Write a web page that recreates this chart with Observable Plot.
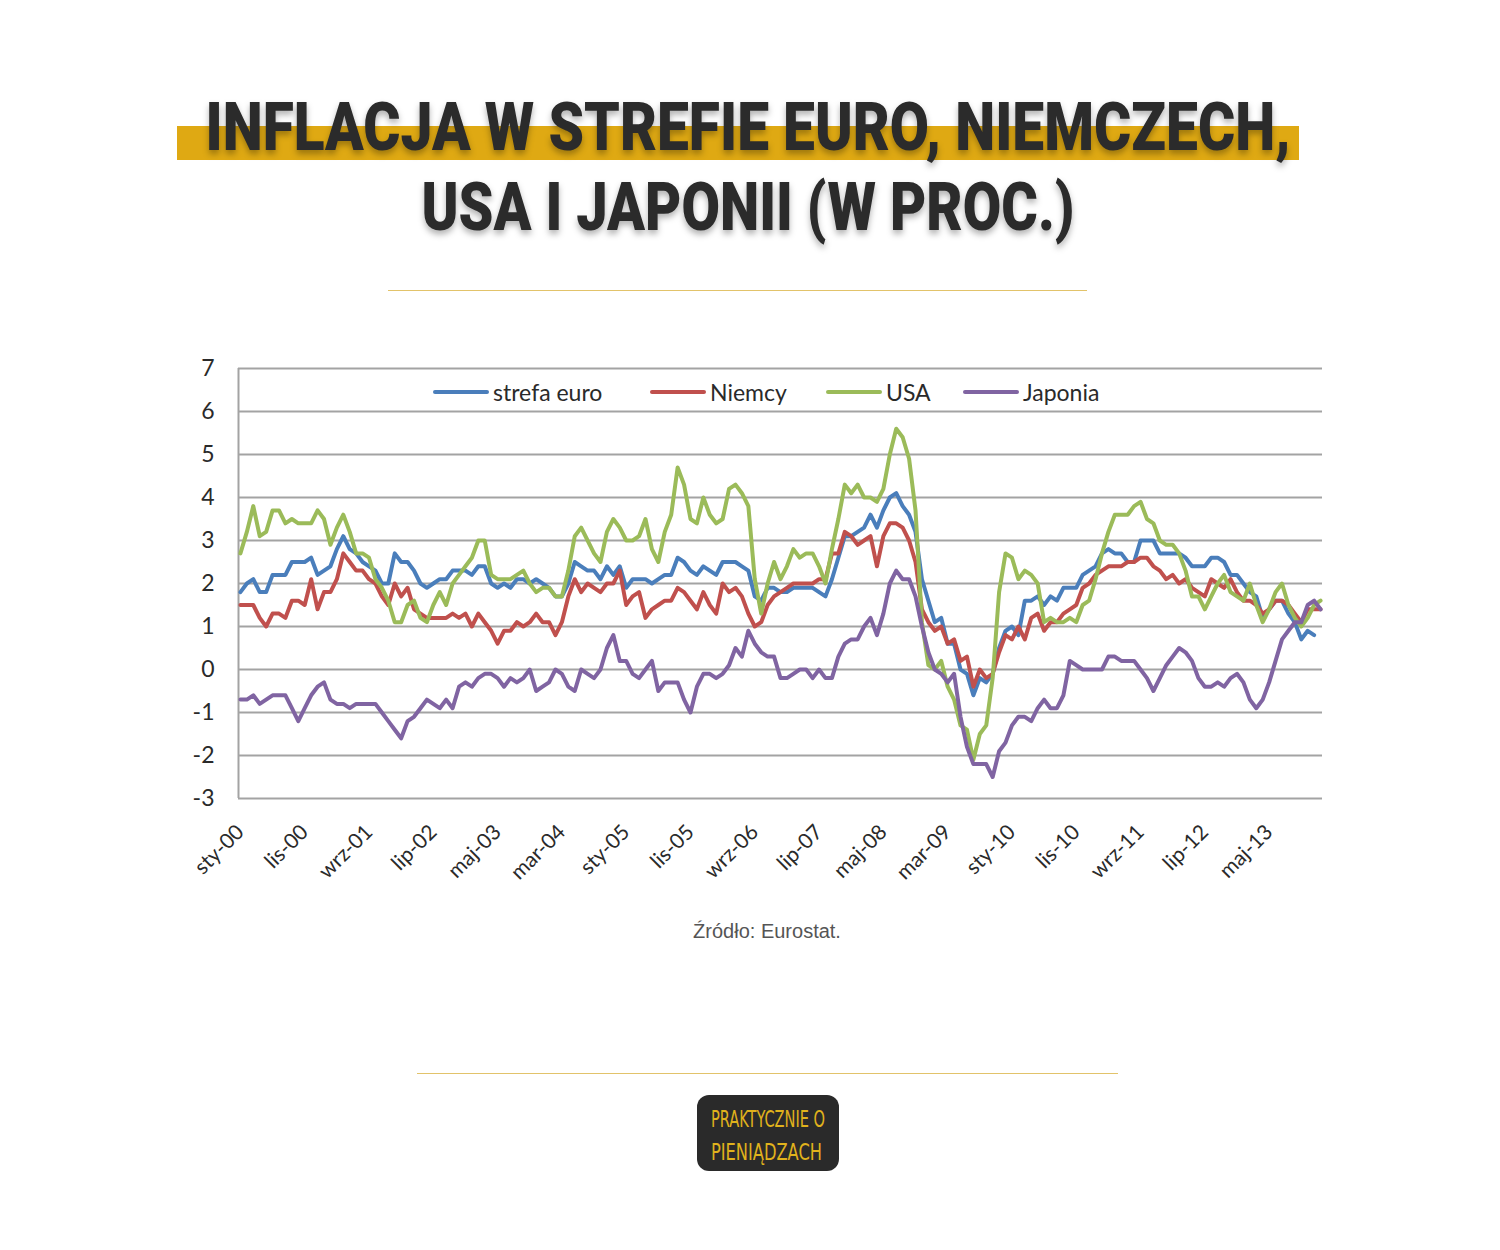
<!DOCTYPE html>
<html>
<head>
<meta charset="utf-8">
<script src="https://cdn.jsdelivr.net/npm/d3@7"></script>
<script src="https://cdn.jsdelivr.net/npm/@observablehq/plot@0.6"></script>
<style>
  html, body { margin: 0; padding: 0; background: #ffffff; }
  #page { position: relative; width: 1500px; height: 1250px; overflow: hidden; background: #fff; }
  .abs { position: absolute; }
  .rule { position: absolute; height: 1px; background: #e2c36a; }
  #legend .item { position: absolute; top: 378px; height: 28px; display: flex; align-items: center; font-family: Lato, "Open Sans", sans-serif; font-size: 23px; color: #2a2a2a; white-space: nowrap; }
  #legend .swatch { display: inline-block; width: 56px; height: 4px; border-radius: 2px; margin-right: 4px; }
  #caption { position: absolute; left: 0; width: 1534px; top: 920px; text-align: center; font-family: "Liberation Sans", Arial, sans-serif; font-size: 20px; color: #555; }
</style>
</head>
<body>
<div id="page">
  <svg class="abs" style="left:0;top:0" width="1500" height="270">
    <rect x="177" y="126" width="1122" height="34" fill="#dfa913"></rect>
    <g style="filter: drop-shadow(0px 4px 3px rgba(0,0,0,0.3));" font-family="Roboto, 'DejaVu Sans Condensed', sans-serif" font-weight="900" fill="#2b2b2b" text-anchor="middle">
      <text x="748" y="150" font-size="66" textLength="1085" lengthAdjust="spacingAndGlyphs">INFLACJA W STREFIE EURO, NIEMCZECH,</text>
      <text x="748" y="230" font-size="66" textLength="653" lengthAdjust="spacingAndGlyphs">USA I JAPONII (W PROC.)</text>
    </g>
  </svg>
  <div class="rule" style="left:388px; width:699px; top:290px;"></div>
  <div id="chart" class="abs" style="left:0; top:340px;"></div>
  <div id="legend"></div>
  <div id="caption">Źródło: Eurostat.</div>
  <div class="rule" style="left:417px; width:701px; top:1073px;"></div>
  <svg class="abs" style="left:696px;top:1094px" width="144" height="78">
    <rect x="1" y="1" width="142" height="76" rx="12" ry="12" fill="#2a2a2a"></rect>
    <g font-family="'Liberation Sans Narrow', 'DejaVu Sans Condensed', sans-serif" font-weight="400" fill="#e0b21c">
      <text transform="translate(15,33) scale(1,1.45)" x="0" y="0" font-size="16" textLength="114" lengthAdjust="spacingAndGlyphs">PRAKTYCZNIE O</text>
      <text transform="translate(15,66) scale(1,1.45)" x="0" y="0" font-size="16" textLength="111" lengthAdjust="spacingAndGlyphs">PIENIĄDZACH</text>
    </g>
  </svg>
</div>
<script>
// ---- data (monthly, Jan 2000 .. Jan 2014) ----
const seriesNames = ["strefa euro", "Niemcy", "USA", "Japonia"];
const seriesColors = ["#4a7ebb", "#c0504d", "#9bbb59", "#8064a2"];

const strefaEuro = [
  1.8, 2.0, 2.1, 1.8, 1.8, 2.2, 2.2, 2.2, 2.5, 2.5, 2.5, 2.6,
  2.2, 2.3, 2.4, 2.8, 3.1, 2.8, 2.7, 2.5, 2.4, 2.3, 2.0, 2.0,
  2.7, 2.5, 2.5, 2.3, 2.0, 1.9, 2.0, 2.1, 2.1, 2.3, 2.3, 2.3,
  2.2, 2.4, 2.4, 2.0, 1.9, 2.0, 1.9, 2.1, 2.1, 2.0, 2.1, 2.0,
  1.9, 1.7, 1.7, 2.0, 2.5, 2.4, 2.3, 2.3, 2.1, 2.4, 2.2, 2.4,
  1.9, 2.1, 2.1, 2.1, 2.0, 2.1, 2.2, 2.2, 2.6, 2.5, 2.3, 2.2,
  2.4, 2.3, 2.2, 2.5, 2.5, 2.5, 2.4, 2.3, 1.7, 1.6, 1.9, 1.9,
  1.8, 1.8, 1.9, 1.9, 1.9, 1.9, 1.8, 1.7, 2.1, 2.6, 3.1, 3.1,
  3.2, 3.3, 3.6, 3.3, 3.7, 4.0, 4.1, 3.8, 3.6, 3.2, 2.1, 1.6,
  1.1, 1.2, 0.6, 0.6, 0.0, -0.1, -0.6, -0.2, -0.3, -0.1, 0.5, 0.9,
  1.0, 0.8, 1.6, 1.6, 1.7, 1.5, 1.7, 1.6, 1.9, 1.9, 1.9, 2.2,
  2.3, 2.4, 2.7, 2.8, 2.7, 2.7, 2.5, 2.5, 3.0, 3.0, 3.0, 2.7,
  2.7, 2.7, 2.7, 2.6, 2.4, 2.4, 2.4, 2.6, 2.6, 2.5, 2.2, 2.2,
  2.0, 1.8, 1.7, 1.2, 1.4, 1.6, 1.6, 1.3, 1.1, 0.7, 0.9, 0.8,
  null
];
const niemcy = [
  1.5, 1.5, 1.5, 1.2, 1.0, 1.3, 1.3, 1.2, 1.6, 1.6, 1.5, 2.1,
  1.4, 1.8, 1.8, 2.1, 2.7, 2.5, 2.3, 2.3, 2.1, 2.0, 1.7, 1.5,
  2.0, 1.7, 1.9, 1.4, 1.3, 1.2, 1.2, 1.2, 1.2, 1.3, 1.2, 1.3,
  1.0, 1.3, 1.1, 0.9, 0.6, 0.9, 0.9, 1.1, 1.0, 1.1, 1.3, 1.1,
  1.1, 0.8, 1.1, 1.7, 2.1, 1.8, 2.0, 1.9, 1.8, 2.0, 2.0, 2.3,
  1.5, 1.7, 1.8, 1.2, 1.4, 1.5, 1.6, 1.6, 1.9, 1.8, 1.6, 1.4,
  1.8, 1.5, 1.3, 2.0, 1.8, 1.9, 1.7, 1.3, 1.0, 1.1, 1.5, 1.7,
  1.8, 1.9, 2.0, 2.0, 2.0, 2.0, 2.1, 2.1, 2.7, 2.7, 3.2, 3.1,
  2.9, 3.0, 3.1, 2.4, 3.1, 3.4, 3.4, 3.3, 3.0, 2.5, 1.4, 1.1,
  0.9, 1.0, 0.6, 0.7, 0.2, 0.3, -0.4, 0.0, -0.2, -0.1, 0.4, 0.8,
  0.7, 1.0, 0.7, 1.2, 1.3, 0.9, 1.1, 1.1, 1.3, 1.4, 1.5, 1.9,
  2.0, 2.2, 2.3, 2.4, 2.4, 2.4, 2.5, 2.5, 2.6, 2.6, 2.4, 2.3,
  2.1, 2.2, 2.0, 2.1, 1.9, 1.8, 1.7, 2.1, 2.0, 1.9, 2.1, 1.8,
  1.6, 1.6, 1.5, 1.3, 1.4, 1.6, 1.6, 1.5, 1.3, 1.1, 1.4, 1.4,
  1.4
];
const usa = [
  2.7, 3.2, 3.8, 3.1, 3.2, 3.7, 3.7, 3.4, 3.5, 3.4, 3.4, 3.4,
  3.7, 3.5, 2.9, 3.3, 3.6, 3.2, 2.7, 2.7, 2.6, 2.1, 1.9, 1.6,
  1.1, 1.1, 1.5, 1.6, 1.2, 1.1, 1.5, 1.8, 1.5, 2.0, 2.2, 2.4,
  2.6, 3.0, 3.0, 2.2, 2.1, 2.1, 2.1, 2.2, 2.3, 2.0, 1.8, 1.9,
  1.9, 1.7, 1.7, 2.3, 3.1, 3.3, 3.0, 2.7, 2.5, 3.2, 3.5, 3.3,
  3.0, 3.0, 3.1, 3.5, 2.8, 2.5, 3.2, 3.6, 4.7, 4.3, 3.5, 3.4,
  4.0, 3.6, 3.4, 3.5, 4.2, 4.3, 4.1, 3.8, 2.1, 1.3, 2.0, 2.5,
  2.1, 2.4, 2.8, 2.6, 2.7, 2.7, 2.4, 2.0, 2.8, 3.5, 4.3, 4.1,
  4.3, 4.0, 4.0, 3.9, 4.2, 5.0, 5.6, 5.4, 4.9, 3.7, 1.1, 0.1,
  0.0, 0.2, -0.4, -0.7, -1.3, -1.4, -2.1, -1.5, -1.3, -0.2, 1.8, 2.7,
  2.6, 2.1, 2.3, 2.2, 2.0, 1.1, 1.2, 1.1, 1.1, 1.2, 1.1, 1.5,
  1.6, 2.1, 2.7, 3.2, 3.6, 3.6, 3.6, 3.8, 3.9, 3.5, 3.4, 3.0,
  2.9, 2.9, 2.7, 2.3, 1.7, 1.7, 1.4, 1.7, 2.0, 2.2, 1.8, 1.7,
  1.6, 2.0, 1.5, 1.1, 1.4, 1.8, 2.0, 1.5, 1.2, 1.0, 1.2, 1.5,
  1.6
];
const japonia = [
  -0.7, -0.7, -0.6, -0.8, -0.7, -0.6, -0.6, -0.6, -0.9, -1.2, -0.9, -0.6,
  -0.4, -0.3, -0.7, -0.8, -0.8, -0.9, -0.8, -0.8, -0.8, -0.8, -1.0, -1.2,
  -1.4, -1.6, -1.2, -1.1, -0.9, -0.7, -0.8, -0.9, -0.7, -0.9, -0.4, -0.3,
  -0.4, -0.2, -0.1, -0.1, -0.2, -0.4, -0.2, -0.3, -0.2, 0.0, -0.5, -0.4,
  -0.3, 0.0, -0.1, -0.4, -0.5, 0.0, -0.1, -0.2, 0.0, 0.5, 0.8, 0.2,
  0.2, -0.1, -0.2, 0.0, 0.2, -0.5, -0.3, -0.3, -0.3, -0.7, -1.0, -0.4,
  -0.1, -0.1, -0.2, -0.1, 0.1, 0.5, 0.3, 0.9, 0.6, 0.4, 0.3, 0.3,
  -0.2, -0.2, -0.1, 0.0, 0.0, -0.2, 0.0, -0.2, -0.2, 0.3, 0.6, 0.7,
  0.7, 1.0, 1.2, 0.8, 1.3, 2.0, 2.3, 2.1, 2.1, 1.7, 1.0, 0.4,
  0.0, -0.1, -0.3, -0.1, -1.1, -1.8, -2.2, -2.2, -2.2, -2.5, -1.9, -1.7,
  -1.3, -1.1, -1.1, -1.2, -0.9, -0.7, -0.9, -0.9, -0.6, 0.2, 0.1, 0.0,
  0.0, 0.0, 0.0, 0.3, 0.3, 0.2, 0.2, 0.2, 0.0, -0.2, -0.5, -0.2,
  0.1, 0.3, 0.5, 0.4, 0.2, -0.2, -0.4, -0.4, -0.3, -0.4, -0.2, -0.1,
  -0.3, -0.7, -0.9, -0.7, -0.3, 0.2, 0.7, 0.9, 1.1, 1.1, 1.5, 1.6,
  1.4
];

// category axis: month index 0 = sty-00; labels every 10 months
const xTickMonths = [0, 10, 20, 30, 40, 50, 60, 70, 80, 90, 100, 110, 120, 130, 140, 150, 160];
const xTickLabels = ["sty-00", "lis-00", "wrz-01", "lip-02", "maj-03", "mar-04", "sty-05", "lis-05",
  "wrz-06", "lip-07", "maj-08", "mar-09", "sty-10", "lis-10", "wrz-11", "lip-12", "maj-13"];
const yTicks = [-3, -2, -1, 0, 1, 2, 3, 4, 5, 6, 7];

const allSeries = [strefaEuro, niemcy, usa, japonia];
const rows = [];
allSeries.forEach((vals, si) => {
  vals.forEach((v, t) => rows.push({ t, v, s: seriesNames[si] }));
});

const chart = Plot.plot({
  width: 1500,
  height: 560,
  marginLeft: 238,
  marginRight: 178,
  marginTop: 28,
  marginBottom: 102,
  style: { background: "transparent", fontFamily: "Lato, 'Open Sans', sans-serif" },
  x: { domain: [-0.3, 168.3] },
  y: { domain: [-3, 7] },
  color: { domain: seriesNames, range: seriesColors },
  marks: [
    Plot.gridY(yTicks, { stroke: "#a3a3a3", strokeOpacity: 1, strokeWidth: 2 }),
    Plot.ruleX([-0.3], { stroke: "#a3a3a3", strokeWidth: 2 }),
    Plot.axisY(yTicks, { tickSize: 0, tickPadding: 24, fontSize: 23, fill: "#2a2a2a", label: null, tickFormat: d => String(d) }),
    Plot.axisX(xTickMonths, {
      tickSize: 0, tickRotate: -45, textAnchor: "end", tickPadding: 30, fontSize: 21, fill: "#2a2a2a", label: null,
      tickFormat: d => xTickLabels[xTickMonths.indexOf(d)]
    }),
    Plot.lineY(rows, { x: "t", y: "v", z: "s", stroke: "s", strokeWidth: 4, defined: d => d.v != null, curve: "linear" })
  ]
});
document.getElementById("chart").appendChild(chart);

// legend
const legend = document.getElementById("legend");
const legendLefts = [433, 650, 826, 963];
seriesNames.forEach((name, i) => {
  const item = document.createElement("div");
  item.className = "item";
  item.style.left = legendLefts[i] + "px";
  const sw = document.createElement("span");
  sw.className = "swatch";
  sw.style.background = seriesColors[i];
  item.appendChild(sw);
  item.appendChild(document.createTextNode(name));
  legend.appendChild(item);
});
</script>
</body>
</html>
